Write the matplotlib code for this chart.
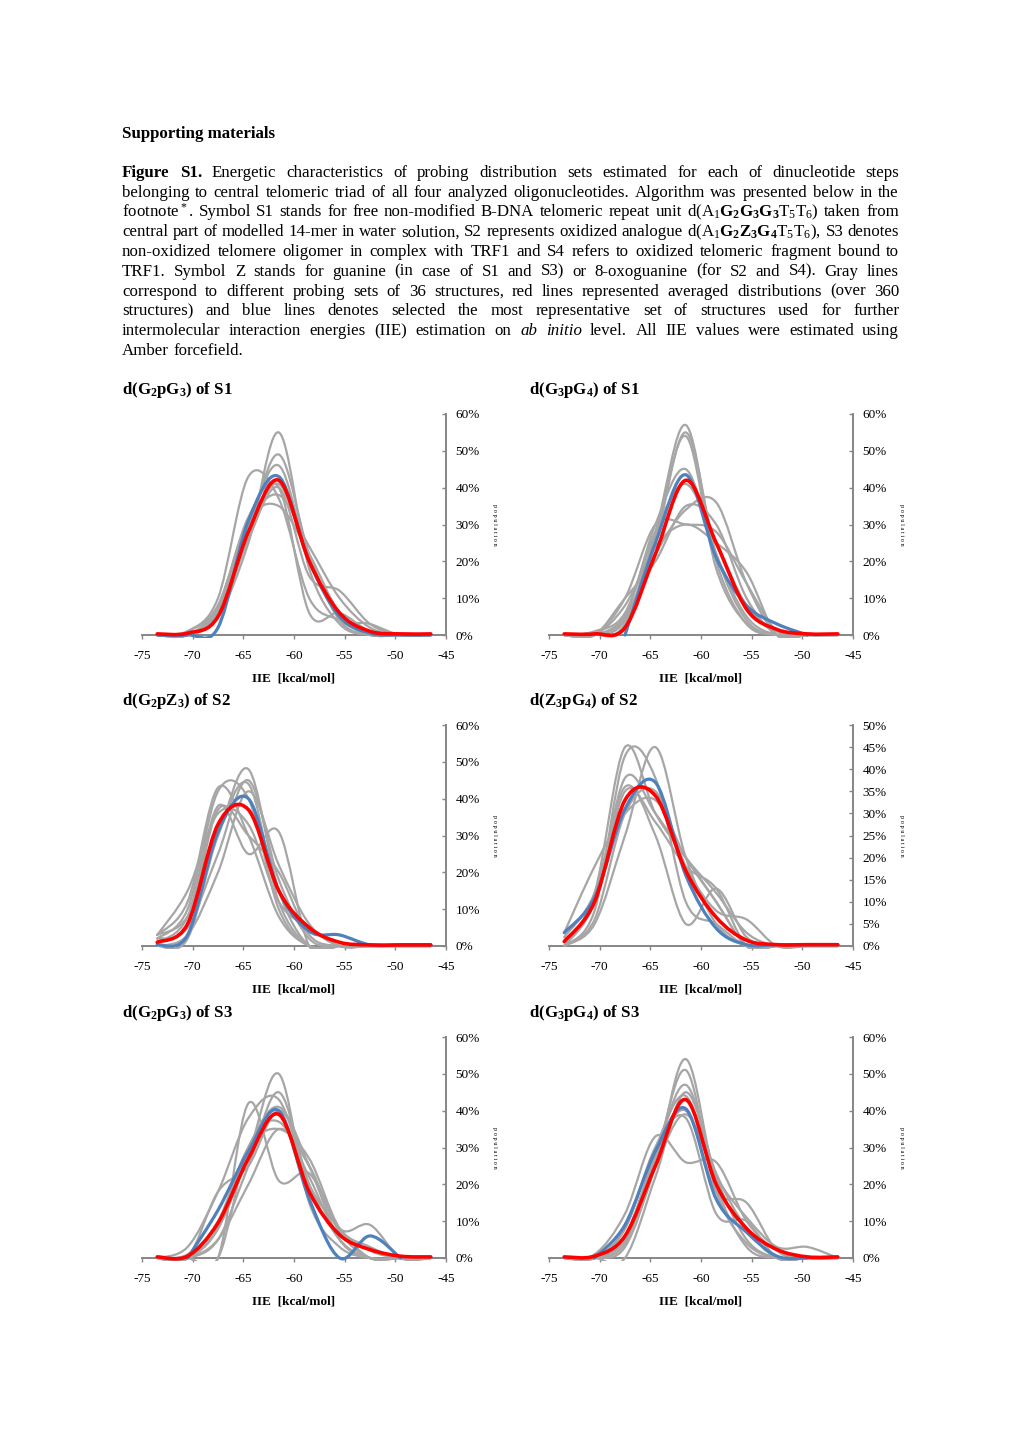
import numpy as np
import matplotlib
matplotlib.use('Agg')
import matplotlib.pyplot as plt
from matplotlib.path import Path
from matplotlib.patches import PathPatch
from matplotlib.ticker import MultipleLocator, PercentFormatter
from matplotlib.transforms import Bbox, TransformedBbox

W, H = 1020, 1443

plt.rcParams['font.family'] = 'Liberation Serif'
plt.rcParams['mathtext.fontset'] = 'custom'
plt.rcParams['mathtext.rm'] = 'Liberation Serif'
plt.rcParams['mathtext.it'] = 'Liberation Serif:italic'
plt.rcParams['mathtext.bf'] = 'Liberation Serif:bold'
plt.rcParams['axes.unicode_minus'] = False

# --- Data (population in %, per IIE bin centre) ---
iie = [-73.5, -70.5, -67.5, -64.5, -61.5, -58.5, -55.5, -52.5, -49.5, -46.5]
N = None

# d(G2pG3) of S1
s1a_red = [0.3, 0.5, 5, 28, 42, 20, 6, 1.0, 0.3, 0.3]
s1a_blue = [0, 0, 2, 31, 43, 20, 5, 0.5, 0, 0]
s1a_gray = [
    [0, 0, 5, 25, 55, 18, 3, 0, 0, 0],
    [0, 0, 6, 28, 49, 22, 4, 0, 0, 0],
    [0, 0, 7, 30, 46, 20, 5, 1, 0, 0],
    [0, 1, 10, 43, 37, 10, 4, 0, 0, 0],
    [0, 1, 8, 31, 35, 22, 6, 1, 0, 0],
    [0, 0, 6, 30, 38, 24, 10, 2, 0, 0],
    [0, 0, 5, 26, 40, 16, 12, 3, 0, 0],
    [0, 0, 6, 28, 41, 20, 5, 3, 0, 0],
    [0, 0, 8, 32, 40, 6, 6, 1, 0, 0],
]

# d(G3pG4) of S1
s1b_red = [0.3, 0.3, 2, 22, 42, 25, 7, 1.5, 0.3, 0.3]
s1b_blue = [N, N, 0, 25, 43.5, 21, 8, 3, 0, N]
s1b_gray = [
    [0, 0, 3, 28, 57, 20, 3, 0, 0, 0],
    [0, 0, 2, 25, 55, 22, 4, 0, 0, 0],
    [0, 0, 4, 27, 54, 18, 3, 0, 0, 0],
    [0, 0, 5, 30, 45, 22, 5, 0, 0, 0],
    [0, 1, 6, 28, 41, 25, 8, 1, 0, 0],
    [0, 0, 10, 30, 30, 28, 14, 1, 0, 0],
    [0, 0, 5, 22, 34, 36, 14, 0, 0, 0],
    [0, 0, 8, 24, 30, 25, 17, 0, 0, 0],
    [0, 0, 10, 20, 35, 30, 10, 0, 0, 0],
]

# d(G2pZ3) of S2
s2a_red = [1, 6, 33, 37, 15, 5, 1, 0.3, 0.3, 0.3]
s2a_blue = [0.3, 3, 31, 40, 15, 4, 3, 0.3, 0.3, 0.3]
s2a_gray = [
    [3, 8, 30, 48, 15, 0, 0, 0, 0, 0],
    [2, 10, 42, 40, 10, 0, 0, 0, 0, 0],
    [1, 5, 25, 45, 18, 2, 0, 0, 0, 0],
    [3, 12, 43, 30, 8, 0, 0, 0, 0, 0],
    [1, 8, 38, 25, 31, 0, 0, 0, 0, 0],
    [3, 15, 36, 33, 12, 5, 0, 0, 0, 0],
    [0, 3, 20, 42, 22, 6, 0, 0, 0, 0],
    [2, 6, 37, 30, 20, 3, 0, 0, 0, 0],
    [0, 2, 30, 44, 12, 0, 0, 0, 0, 0],
]

# d(Z3pG4) of S2
s2b_red = [1, 10, 33, 34, 17, 6.5, 1.3, 0.3, 0.3, 0.3]
s2b_blue = [3, 11, 31, 37, 16, 4, 0.3, 0.3, 0.3, 0.3]
s2b_gray = [
    [0, 12, 45, 30, 20, 10, 0, 0, 0, 0],
    [0, 8, 43, 38, 10, 5, 0, 0, 0, 0],
    [0, 5, 25, 45, 20, 5, 0, 0, 0, 0],
    [0, 10, 38, 30, 20, 12, 3, 0, 0, 0],
    [1, 10, 35, 28, 18, 13, 0, 0, 0, 0],
    [0, 6, 30, 35, 18, 8, 6, 0, 0, 0],
    [2, 12, 36, 25, 5, 13, 2, 0, 0, 0],
    [3, 18, 30, 33, 20, 10, 0, 0, 0, 0],
]

# d(G2pG3) of S3
s3a_red = [0.3, 0.5, 9.5, 27, 39, 18, 6.3, 2.3, 0.5, 0.3]
s3a_blue = [N, 0, 13, 29, 40, 16, 0, 6, 0, N]
s3a_gray = [
    [0, 0, 8, 28, 50, 15, 3, 0, 0, 0],
    [0, 0, 5, 25, 45, 20, 5, 0, 0, 0],
    [0, 0, 0, 42, 21, 23, 7, 0, 0, 0],
    [0, 3, 18, 38, 43, 20, 8, 0, 0, 0],
    [0, 0, 18, 25, 40, 25, 8, 3, 0, 0],
    [0, 0, 5, 20, 35, 25, 8, 9, 0, 0],
    [0, 1, 10, 30, 35, 27, 8, 2, 0, 0],
    [0, 0, 0, 30, 37, 22, 5, 0, 0, 0],
    [0, 0, 8, 30, 41, 25, 5, 0, 0, 0],
]

# d(G3pG4) of S3
s3b_red = [0.3, 0.5, 6, 25, 43, 20, 8, 2.3, 0.3, 0.3]
s3b_blue = [N, 0, 9, 29, 40.5, 16, 7, 0.5, 0, N]
s3b_gray = [
    [0, 0, 3, 25, 54, 20, 3, 0, 0, 0],
    [0, 0, 4, 27, 51, 18, 4, 0, 0, 0],
    [0, 0, 6, 28, 47, 22, 5, 0, 0, 0],
    [0, 0, 8, 30, 44, 20, 8, 0, 0, 0],
    [0, 1, 12, 33, 26, 26, 10, 2, 0, 0],
    [0, 0, 5, 28, 40, 18, 15, 2, 0, 0],
    [0, 0, 5, 25, 39, 22, 11, 3, 3, 0],
    [0, 0, 0, 22, 45, 23, 8, 0, 0, 0],
    [0, 0, 8, 30, 38, 12, 10, 0, 0, 0],
]

panels = [
    (r'd(G$_\mathbf{2}$pG$_\mathbf{3}$) of S1', s1a_gray, s1a_blue, s1a_red, 60, 10),
    (r'd(G$_\mathbf{3}$pG$_\mathbf{4}$) of S1', s1b_gray, s1b_blue, s1b_red, 60, 10),
    (r'd(G$_\mathbf{2}$pZ$_\mathbf{3}$) of S2', s2a_gray, s2a_blue, s2a_red, 60, 10),
    (r'd(Z$_\mathbf{3}$pG$_\mathbf{4}$) of S2', s2b_gray, s2b_blue, s2b_red, 50, 5),
    (r'd(G$_\mathbf{2}$pG$_\mathbf{3}$) of S3', s3a_gray, s3a_blue, s3a_red, 60, 10),
    (r'd(G$_\mathbf{3}$pG$_\mathbf{4}$) of S3', s3b_gray, s3b_blue, s3b_red, 60, 10),
]

caption = [
    "*Figure *S1. Energetic characteristics of probing distribution sets estimated for each of dinucleotide steps",
    "belonging to central telomeric triad of all four analyzed oligonucleotides. Algorithm was presented below in the",
    r"footnote$^*$. Symbol S1 stands for free non-modified B-DNA telomeric repeat unit d(A$_1\mathbf{G_2G_3G_3}$T$_5$T$_6$) taken from",
    r"central part of modelled 14-mer in water solution, S2 represents oxidized analogue d(A$_1\mathbf{G_2Z_3G_4}$T$_5$T$_6$), S3 denotes",
    "non-oxidized telomere oligomer in complex with TRF1 and S4 refers to oxidized telomeric fragment bound to",
    "TRF1. Symbol Z stands for guanine (in case of S1 and S3) or 8-oxoguanine (for S2 and S4). Gray lines",
    "correspond to different probing sets of 36 structures, red lines represented averaged distributions (over 360",
    "structures) and blue lines denotes selected the most representative set of structures used for further",
    "intermolecular interaction energies (IIE) estimation on ~ab ~initio level. All IIE values were estimated using",
    "Amber forcefield.",
]

GRAY = '#a6a6a6'
BLUE = '#4f81bd'
RED = '#ff0000'
AXIS = '#868686'
BODY = 12.2


def smooth_path(xs, ys):
    """Excel-like smoothed line: cubic Bezier through the points."""
    pts = np.array([(x, y) for x, y in zip(xs, ys) if y is not None], dtype=float)
    n = len(pts)
    verts = [pts[0]]
    codes = [Path.MOVETO]
    for i in range(n - 1):
        p0 = pts[i - 1] if i > 0 else pts[i]
        p1, p2 = pts[i], pts[i + 1]
        p3 = pts[i + 2] if i + 2 < n else pts[i + 1]
        verts += [p1 + (p2 - p0) / 6, p2 - (p3 - p1) / 6, p2]
        codes += [Path.CURVE4] * 3
    return Path(verts, codes)


fig = plt.figure(figsize=(W / 100, H / 100), dpi=100)
renderer = fig.canvas.get_renderer()


def fy(y):
    return 1 - y / H


# --- header text ---
fig.text(122 / W, fy(138), 'Supporting materials', fontsize=BODY, fontweight='bold', va='baseline')

x_left, x_right = 122, 899
for k, line in enumerate(caption):
    y = 177 + 19.75 * k
    texts = []
    for word in line.split(' '):
        kw = {}
        if word.startswith('*'):
            word, kw = word[1:], {'fontweight': 'bold'}
        elif word.startswith('~'):
            word, kw = word[1:], {'fontstyle': 'italic'}
        texts.append(fig.text(0, fy(y), word, fontsize=BODY, va='baseline', **kw))
    widths = [t.get_window_extent(renderer).width for t in texts]
    if k < len(caption) - 1:
        gap = (x_right - x_left - sum(widths)) / (len(texts) - 1)
    else:
        gap = 4.2
    x = x_left
    for t, w in zip(texts, widths):
        t.set_x(x / W)
        x += w + gap

# --- panels ---
col_x = [142, 549]
row_bottom = [635, 946, 1258]
aw, ah = 304, 221

for i, (title, grays, blue, red, ymax, ystep) in enumerate(panels):
    x0 = col_x[i % 2]
    yb = row_bottom[i // 2]
    ax = fig.add_axes([x0 / W, 1 - yb / H, aw / W, ah / H])
    ax.set_xlim(-75, -45)
    ax.set_ylim(0, ymax)
    ax.set_facecolor('none')
    ax.spines['top'].set_visible(False)
    ax.spines['left'].set_visible(False)
    for s in ['right', 'bottom']:
        ax.spines[s].set_color(AXIS)
        ax.spines[s].set_linewidth(1.4)
    ax.yaxis.tick_right()
    ax.xaxis.set_major_locator(MultipleLocator(5))
    ax.yaxis.set_major_locator(MultipleLocator(ystep))
    ax.yaxis.set_major_formatter(PercentFormatter(decimals=0))
    ax.tick_params(axis='y', direction='in', length=3, width=1, color=AXIS, pad=7, labelsize=9.5)
    ax.tick_params(axis='x', direction='out', length=3, width=1, color=AXIS, pad=7.5, labelsize=9.5)

    clip = TransformedBbox(Bbox([[-0.01, -0.012], [1.01, 1.1]]), ax.transAxes)
    for series, color, lw, z in [(g, GRAY, 1.6, 3) for g in grays] + [(blue, BLUE, 2.3, 4), (red, RED, 2.6, 5)]:
        patch = PathPatch(smooth_path(iie, series), facecolor='none', edgecolor=color,
                          lw=lw, zorder=z, capstyle='round', joinstyle='round')
        ax.add_patch(patch)
        patch.set_clip_box(clip)

    ax.text(0.5, -0.195, 'IIE  [kcal/mol]', transform=ax.transAxes, ha='center', va='center',
            fontsize=9.5, fontweight='bold')
    ax.text(1.16, 0.5, 'p o p u l a t i o n', transform=ax.transAxes, rotation=-90,
            ha='center', va='center', fontsize=4.5)
    fig.text((x0 - 20) / W, fy(yb - ah - 24), title, fontsize=BODY, fontweight='bold', va='center')

fig.savefig('out.png', dpi=100)
